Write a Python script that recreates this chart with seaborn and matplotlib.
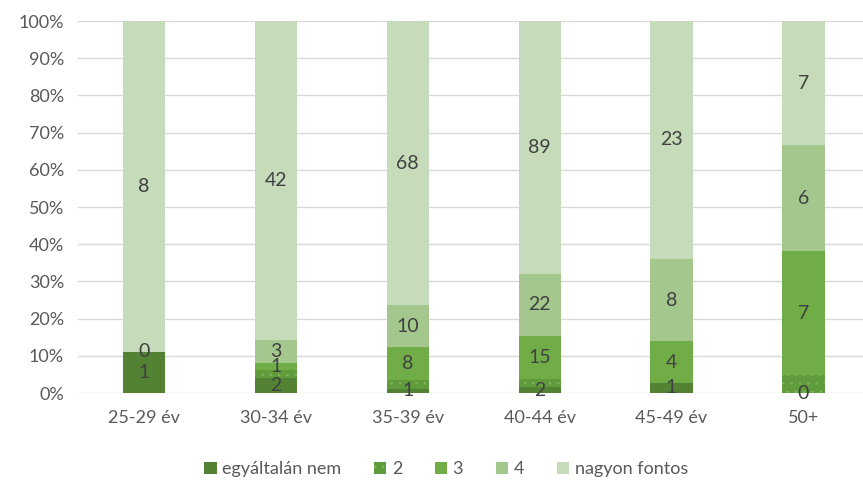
import numpy as np
import pandas as pd
import seaborn as sns
import matplotlib.pyplot as plt
from matplotlib.ticker import PercentFormatter

# adatok
korcsoportok = ['25-29 év', '30-34 év', '35-39 év', '40-44 év', '45-49 év', '50+']
sorozatok = ['egyáltalán nem', '2', '3', '4', 'nagyon fontos']
egyaltalan_nem = [1, 2, 1, 2, 1, 0]
ertek_2 = [0, 1, 2, 3, 0, 1]
ertek_3 = [0, 1, 8, 15, 4, 7]
ertek_4 = [0, 3, 10, 22, 8, 6]
nagyon_fontos = [8, 42, 68, 89, 23, 7]

szinek = ['#548235', '#609b3c', '#70ad47', '#a3c78c', '#c5dbba']

df = pd.DataFrame([egyaltalan_nem, ertek_2, ertek_3, ertek_4, nagyon_fontos],
                  index=sorozatok, columns=korcsoportok).T
osszeg = df.sum(axis=1)
szazalek = df.div(osszeg, axis=0) * 100

sns.set_style('white')
plt.rcParams['font.family'] = ['Lato', 'DejaVu Sans']
plt.rcParams['hatch.linewidth'] = 0.6

fig = plt.figure(figsize=(8.63, 4.84), dpi=100)
ax = fig.add_axes([0.0904, 0.188, 0.917, 0.7686])

also = np.zeros(len(korcsoportok))
for i, s in enumerate(sorozatok):
    if s == '2':
        kw = dict(hatch='..', edgecolor='#7fb35c', linewidth=0)
    else:
        kw = dict(linewidth=0)
    sns.barplot(x=korcsoportok, y=szazalek[s].values, bottom=also, color=szinek[i],
                width=0.32, ax=ax, label=s, saturation=1, **kw)
    also = also + szazalek[s].values

# címkék (a "2" sorozat címkéi rejtve, egymásra eső nullák csak egyszer)
elozo = None
for i, kont in enumerate(ax.containers):
    s = sorozatok[i]
    if s == '2':
        continue
    cimkek = []
    for j, v in enumerate(df[s].values):
        if elozo is not None and v == 0 and elozo[j] == 0 and s == '4':
            cimkek.append('')
        else:
            cimkek.append(str(v))
    elozo = df[s].values
    ax.bar_label(kont, labels=cimkek, label_type='center', fontsize=14, color='#404040')

ax.set_ylim(0, 100)
ax.set_xlim(-0.5, 5.5)
ax.set_yticks(np.arange(0, 101, 10))
ax.yaxis.set_major_formatter(PercentFormatter(decimals=0))
ax.grid(axis='y', color='#d9d9d9', linewidth=1)
ax.set_axisbelow(True)
sns.despine(ax=ax, left=True, bottom=True)
ax.tick_params(axis='both', length=0, labelsize=13, labelcolor='#595959')
ax.tick_params(axis='x', pad=12)
ax.tick_params(axis='y', pad=10)

ax.legend(loc='lower center', bbox_to_anchor=(0.465, -0.27), ncol=5, frameon=False,
          fontsize=13, labelcolor='#595959', handlelength=0.7, handleheight=0.7,
          handletextpad=0.3, columnspacing=1.8)

fig.savefig('out.png', dpi=100)
